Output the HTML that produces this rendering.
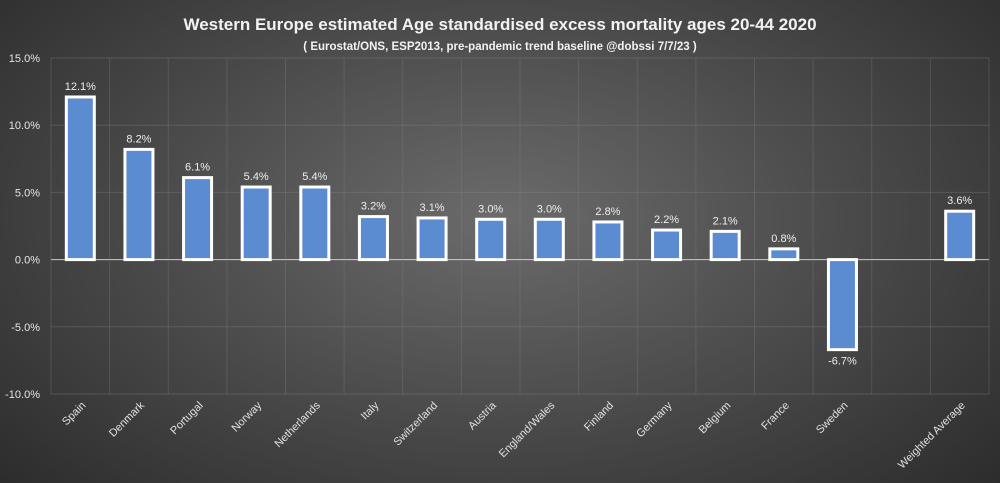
<!DOCTYPE html>
<html><head><meta charset="utf-8"><style>
html,body{margin:0;padding:0;}
body{width:1000px;height:483px;overflow:hidden;background:radial-gradient(ellipse 70% 85% at 50% 45%,#6b6b6b 0%,#4a4a4a 50%,#2a2a2a 100%);font-family:"Liberation Sans",sans-serif;}
svg{display:block;}
</style></head><body>
<svg id="chart" width="1000" height="483">
<text x="500" y="30" text-anchor="middle" fill="#f2f2f2" font-size="17" font-weight="bold">Western Europe estimated Age standardised excess mortality ages 20-44 2020</text>
<text x="500" y="50" text-anchor="middle" fill="#f2f2f2" font-size="11.5" font-weight="bold">( Eurostat/ONS, ESP2013, pre-pandemic trend baseline @dobssi 7/7/23 )</text>
<g id="grid"></g><g id="bars"></g><g id="labels"></g>
</svg>
<script>
const categories=["Spain","Denmark","Portugal","Norway","Netherlands","Italy","Switzerland","Austria","England/Wales","Finland","Germany","Belgium","France","Sweden","","Weighted Average"];
const values=[12.1,8.2,6.1,5.4,5.4,3.2,3.1,3.0,3.0,2.8,2.2,2.1,0.8,-6.7,null,3.6];
const yTicks=[15,10,5,0,-5,-10];
const tickLabels=["15.0%","10.0%","5.0%","0.0%","-5.0%","-10.0%"];
const NS="http://www.w3.org/2000/svg";
const L=51,R=989,T=58,B=394,yMax=15,yMin=-10;
const slot=(R-L)/categories.length;
const y=v=>T+(yMax-v)/(yMax-yMin)*(B-T);
const xc=i=>L+slot*(i+0.5);
function mk(tag,attrs,parent){const e=document.createElementNS(NS,tag);for(const k in attrs)e.setAttribute(k,attrs[k]);document.getElementById(parent).appendChild(e);return e;}
yTicks.forEach((t,i)=>{
  const g=mk('line',{x1:L,x2:R,y1:y(t),y2:y(t),stroke:t===0?'#d9d9d9':'#888','stroke-width':1,'stroke-opacity':t===0?0.9:0.35},'grid');
  
  
  const tx=mk('text',{x:40,y:y(t)+4,'text-anchor':'end',fill:'#e6e6e6','font-size':11},'labels');
  tx.textContent=tickLabels[i];
  
  
});
for(let i=0;i<=categories.length;i++){
  const g=mk('line',{x1:L+slot*i,x2:L+slot*i,y1:T,y2:B,stroke:'#888','stroke-opacity':0.3},'grid');
  
  
}
categories.forEach((c,i)=>{
  const v=values[i];
  if(v!==null){
    const top=Math.min(y(v),y(0)),h=Math.abs(y(v)-y(0));
    const r=mk('rect',{x:xc(i)-14,y:top,width:28,height:h,fill:'#5b8bd0',stroke:'#fff','stroke-width':3},'bars');
    
    
    const lv=mk('text',{x:xc(i),y:v>=0?y(v)-7:y(v)+15,'text-anchor':'middle',fill:'#eee','font-size':11},'labels');
    lv.textContent=v.toFixed(1)+'%';
    
    
  }
  if(c){
    const cx=xc(i)+6,cy=B+12;
    const t=mk('text',{x:cx,y:cy,'text-anchor':'end',fill:'#e0e0e0','font-size':11,transform:`rotate(-45 ${cx} ${cy})`},'labels');
    t.textContent=c;
    
    
  }
});
</script>
</body></html>
